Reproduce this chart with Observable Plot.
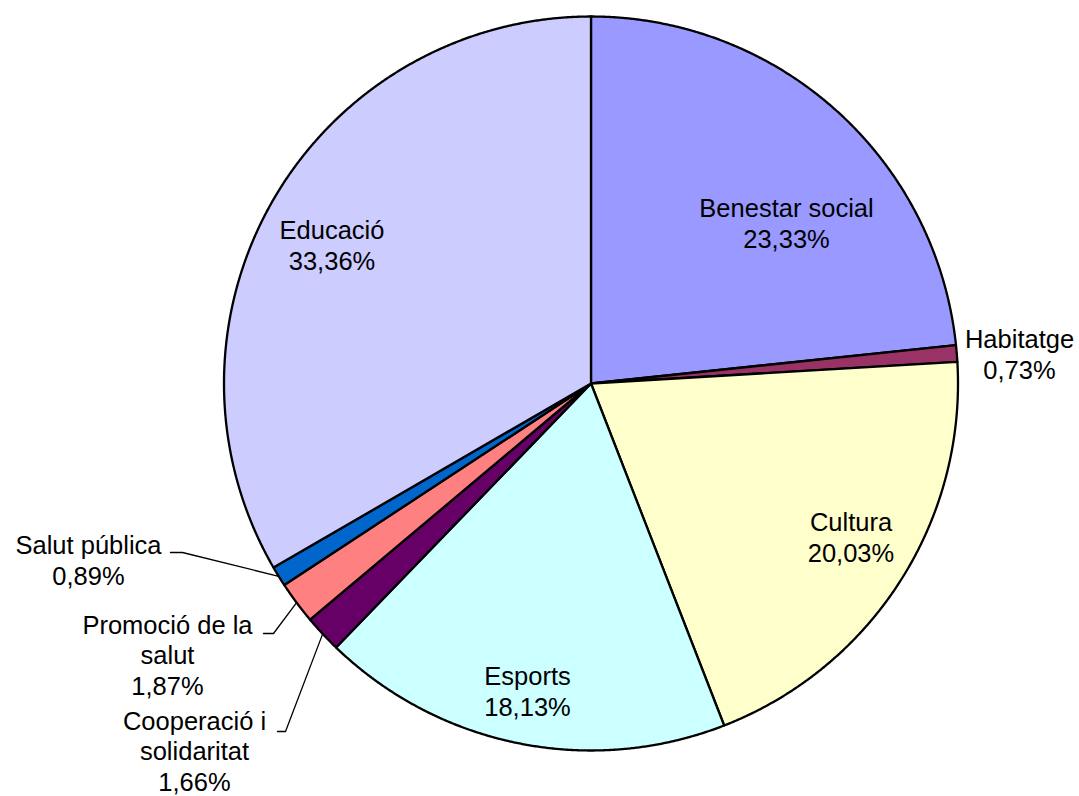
<!DOCTYPE html>
<html><head><meta charset="utf-8">
<script src="https://cdn.jsdelivr.net/npm/d3@7"></script>
<script src="https://cdn.jsdelivr.net/npm/@observablehq/plot@0.6"></script>
<style>body{margin:0;background:#fff}#chart{width:1079px;height:796px}</style>
</head><body><div id="chart"></div>
<script>
// ---- data ----
const categories = ["Benestar social","Habitatge","Cultura","Esports","Cooperació i solidaritat","Promoció de la salut","Salut pública","Educació"];
const values = [23.33, 0.73, 20.03, 18.13, 1.66, 1.87, 0.89, 33.36];
const labelText = ["Benestar social","Habitatge","Cultura","Esports","Cooperació i\nsolidaritat","Promoció de la\nsalut","Salut pública","Educació"];
const colors = ["#9999FF","#993366","#FFFFCC","#CCFFFF","#660066","#FF8080","#0066CC","#CCCCFF"];

// ---- layout (unit-radius coordinates, y down) ----
const labelX = [0.5327, 1.1676, 0.7084, -0.1730, -1.0804, -1.1540, -1.3692, -0.7057];
const labelY = [-0.4387, -0.0817, 0.4169, 0.8365, 1.0000, 0.7380, 0.4796, -0.3787];
const elbowX = [null, null, null, null, -0.8324, -0.8651, -1.1131, null];
const elbowY = [null, null, null, null, 0.9482, 0.6812, 0.4605, null];
const endX   = [null, null, null, null, -0.8542, -0.8924, -1.1458, null];
const endY   = [null, null, null, null, 0.9482, 0.6812, 0.4605, null];
const cx = 590.5, cy = 383, r = 367;

const pt = a => [Math.sin(a), -Math.cos(a)];
const arcs = d3.pie().sort(null).value(d => d)(values);

const slices = arcs.map((a, i) => {
  const n = Math.max(2, Math.ceil((a.endAngle - a.startAngle) / 0.004));
  const ring = [[0, 0]];
  for (let k = 0; k <= n; ++k) ring.push(pt(a.startAngle + (a.endAngle - a.startAngle) * k / n));
  ring.push([0, 0]);
  return {type: "Feature", properties: {name: categories[i], color: colors[i]}, geometry: {type: "Polygon", coordinates: [ring]}};
});

const leaders = arcs.flatMap((a, i) => elbowX[i] == null ? [] : [{
  type: "Feature", properties: {name: categories[i]},
  geometry: {type: "LineString", coordinates: [pt((a.startAngle + a.endAngle) / 2), [elbowX[i], elbowY[i]], [endX[i], endY[i]]]}
}]);

const fmt = v => v.toFixed(2).replace(".", ",") + "%";
const labels = values.map((v, i) => ({x: labelX[i], y: labelY[i], text: labelText[i] + "\n" + fmt(v)}));

const projection = d3.geoIdentity().fitExtent([[cx - r, cy - r], [cx + r, cy + r]], {type: "MultiPoint", coordinates: [[-1, -1], [1, 1]]});

const chart = Plot.plot({
  width: 1079, height: 796, margin: 0,
  projection,
  style: {fontFamily: "'Liberation Sans', Arial, sans-serif", background: "#fff"},
  marks: [
    Plot.geo(slices, {fill: d => d.properties.color, stroke: "black", strokeWidth: 2.3, strokeLinejoin: "round"}),
    Plot.geo(leaders, {stroke: "black", strokeWidth: 1.3, fill: "none"}),
    Plot.text(labels, {x: "x", y: "y", text: "text", fontSize: 25.5, lineHeight: 1.2, fill: "black", textAnchor: "middle"})
  ]
});
document.getElementById("chart").appendChild(chart);
</script>
</body></html>
